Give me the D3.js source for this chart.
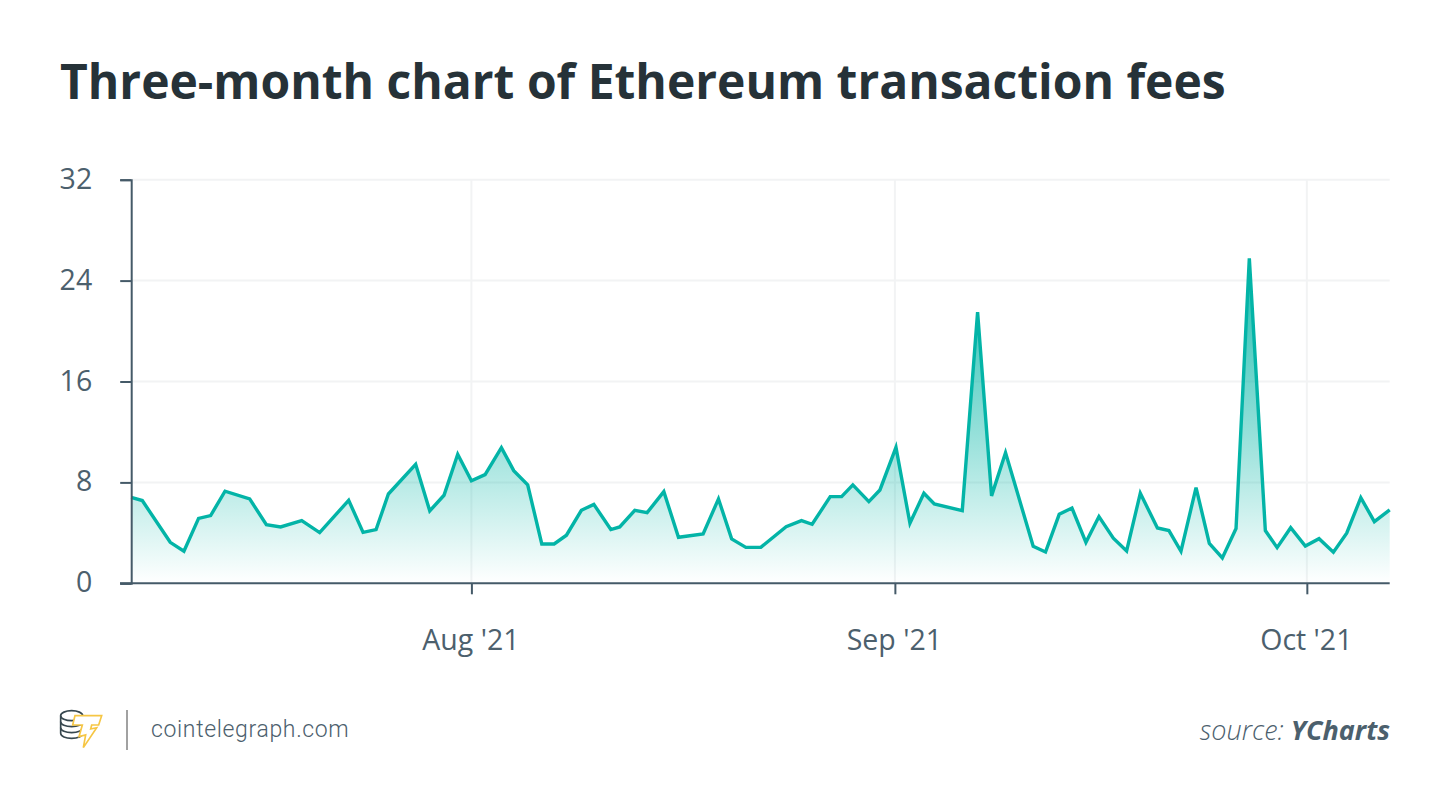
<!DOCTYPE html>
<html>
<head>
<meta charset="UTF-8">
<title>Three-month chart of Ethereum transaction fees</title>
<script src="https://d3js.org/d3.v7.min.js"></script>
<style>
html, body { margin: 0; padding: 0; background: #fff; }
svg { display: block; }
text { font-family: "Open Sans", sans-serif; }
.title { font-size: 48px; font-weight: 700; fill: #263238; }
.axis text { font-size: 28.5px; fill: #4c606d; }
.axis line, .axis path { stroke: #455a68; }
.grid line { stroke: #f2f3f4; stroke-width: 2; }
.site { font-family: Roboto, sans-serif; font-weight: 300; font-size: 23px; letter-spacing: 0.65px; fill: #4c606d; }
.source { font-size: 27px; font-style: italic; font-weight: 300; fill: #4c606d; }
.source .brand { font-weight: 700; }
</style>
</head>
<body>
<svg id="chart" width="1450" height="810"></svg>
<script>
// days counted from 1 Aug 2021
var days = [-24.84, -24.03, -21.99, -20.99, -19.92, -19.04, -17.99, -16.19, -14.97, -13.93,
  -12.39, -11.08, -8.96, -7.91, -6.96, -6.06, -4.07, -3.04, -2, -1,
  0, 1, 2.19, 3.09, 4.11, 5.14, 6.04, 6.94, 8.03, 8.94,
  10.18, 10.83, 11.93, 12.83, 14.05, 15.12, 16.92, 18.04, 19, 20.04,
  21.13, 22.98, 24.1, 24.88, 26.2, 27.03, 27.85, 29.02, 29.83, 31,
  32.02, 33.04, 33.8, 35.84, 36.96, 37.98, 39, 41.02, 41.92, 42.92,
  43.85, 44.87, 45.82, 46.87, 47.84, 48.84, 50.09, 50.93, 51.81, 52.91,
  53.88, 54.83, 55.83, 56.8, 57.97, 58.83, 59.82, 60.89, 61.89, 62.94,
  63.91, 64.94, 65.93, 67.05];

var fees = [6.82, 6.56, 3.25, 2.54, 5.15, 5.37, 7.3, 6.69, 4.65, 4.47,
  4.97, 4.02, 6.58, 4.04, 4.26, 7.08, 9.44, 5.74, 6.98, 10.23,
  8.12, 8.62, 10.76, 8.93, 7.8, 3.12, 3.12, 3.81, 5.79, 6.26,
  4.26, 4.47, 5.79, 5.6, 7.27, 3.65, 3.91, 6.69, 3.52, 2.85,
  2.85, 4.49, 4.97, 4.68, 6.87, 6.87, 7.8, 6.48, 7.4, 10.78,
  4.76, 7.14, 6.29, 5.76, 21.5, 6.93, 10.36, 2.93, 2.48, 5.47,
  5.97, 3.25, 5.29, 3.57, 2.56, 7.14, 4.39, 4.18, 2.54, 7.59,
  3.17, 2.01, 4.34, 25.76, 4.18, 2.83, 4.41, 2.96, 3.54, 2.46,
  3.97, 6.79, 4.89, 5.82];

var yTicks = [0, 8, 16, 24, 32];
var xTicks = [0, 30.92, 61];
var xLabels = ["Aug '21", "Sep '21", "Oct '21"];

var svg = d3.select("#chart");

var x = d3.scaleLinear().domain([-24.84, 67.05]).range([131.2, 1389.7]);
var y = d3.scaleLinear().domain([0, 32]).range([583.3, 179.7]);

var points = days.map(function(d, i) { return [d, fees[i]]; });

svg.append("text").attr("class", "title").attr("x", 60).attr("y", 99)
  .text("Three-month chart of Ethereum transaction fees");

// gradient under the line
var grad = svg.append("defs").append("linearGradient")
  .attr("id", "areaFill").attr("gradientUnits", "userSpaceOnUse")
  .attr("x1", 0).attr("x2", 0).attr("y1", y(25.76)).attr("y2", y(0));
grad.append("stop").attr("offset", "0%").attr("stop-color", "#00b5a5").attr("stop-opacity", 0.9);
grad.append("stop").attr("offset", "100%").attr("stop-color", "#00b5a5").attr("stop-opacity", 0);

// grid
var grid = svg.append("g").attr("class", "grid");
grid.selectAll(".h").data(yTicks.slice(1)).enter().append("line")
  .attr("x1", x.range()[0]).attr("x2", x.range()[1])
  .attr("y1", y).attr("y2", y);
grid.selectAll(".v").data(xTicks).enter().append("line")
  .attr("x1", x).attr("x2", x)
  .attr("y1", y(32)).attr("y2", y(0));

// area + line
var area = d3.area().x(function(d) { return x(d[0]); }).y0(y(0)).y1(function(d) { return y(d[1]); });
var line = d3.line().x(function(d) { return x(d[0]); }).y(function(d) { return y(d[1]); });

svg.append("path").datum(points).attr("d", area).attr("fill", "url(#areaFill)");
svg.append("path").datum(points).attr("d", line)
  .attr("fill", "none").attr("stroke", "#03b4a7").attr("stroke-width", 3.4);

// axes
var xAxis = d3.axisBottom(x).tickValues(xTicks).tickSize(11).tickPadding(35)
  .tickFormat(function(d, i) { return xLabels[i]; });
var yAxis = d3.axisLeft(y).tickValues(yTicks).tickSize(11).tickPadding(28)
  .tickFormat(d3.format("d"));

var gx = svg.append("g").attr("class", "axis").attr("transform", "translate(0," + y(0) + ")").call(xAxis);
gx.selectAll("text").attr("dy", "0.71em").attr("dx", -1);
gx.select(".domain").attr("stroke-width", 2).attr("d", "M120,0H" + x.range()[1]);
gx.selectAll(".tick line").attr("stroke-width", 2);

var gy = svg.append("g").attr("class", "axis").attr("transform", "translate(" + x.range()[0] + ",0)").call(yAxis);
gy.select(".domain").attr("stroke-width", 2);
gy.selectAll(".tick line").attr("stroke-width", 2);
gy.selectAll("text").attr("dy", "0.3em");

// logo
var logo = svg.append("g").attr("transform", "translate(55,705) scale(0.3333)")
  .attr("fill", "none").attr("stroke", "#37474f").attr("stroke-width", 5);
logo.append("ellipse").attr("cx", 50).attr("cy", 32).attr("rx", 33).attr("ry", 15);
logo.append("path").attr("d", "M17,32V85C17,94 32,100 50,100S83,94 83,85V32");
logo.append("path").attr("d", "M17,50C17,59 32,65 50,65S83,59 83,50");
logo.append("path").attr("d", "M17,68C17,77 32,83 50,83S83,77 83,68");
logo.append("path").attr("d", "M60,32H140L131,60H110L107,72L125,68L85,128L92,90L72,95L82,60H53Z")
  .attr("fill", "#fff").attr("stroke", "#f6c644");

svg.append("line").attr("x1", 127).attr("x2", 127).attr("y1", 710).attr("y2", 750)
  .attr("stroke", "#8a8a8a").attr("stroke-width", 1.6);

svg.append("text").attr("class", "site").attr("x", 151).attr("y", 737).text("cointelegraph.com");

var source = svg.append("text").attr("class", "source").attr("x", 1390).attr("y", 740).attr("text-anchor", "end");
source.append("tspan").text("source: ");
source.append("tspan").attr("class", "brand").text("YCharts");
</script>
</body>
</html>
